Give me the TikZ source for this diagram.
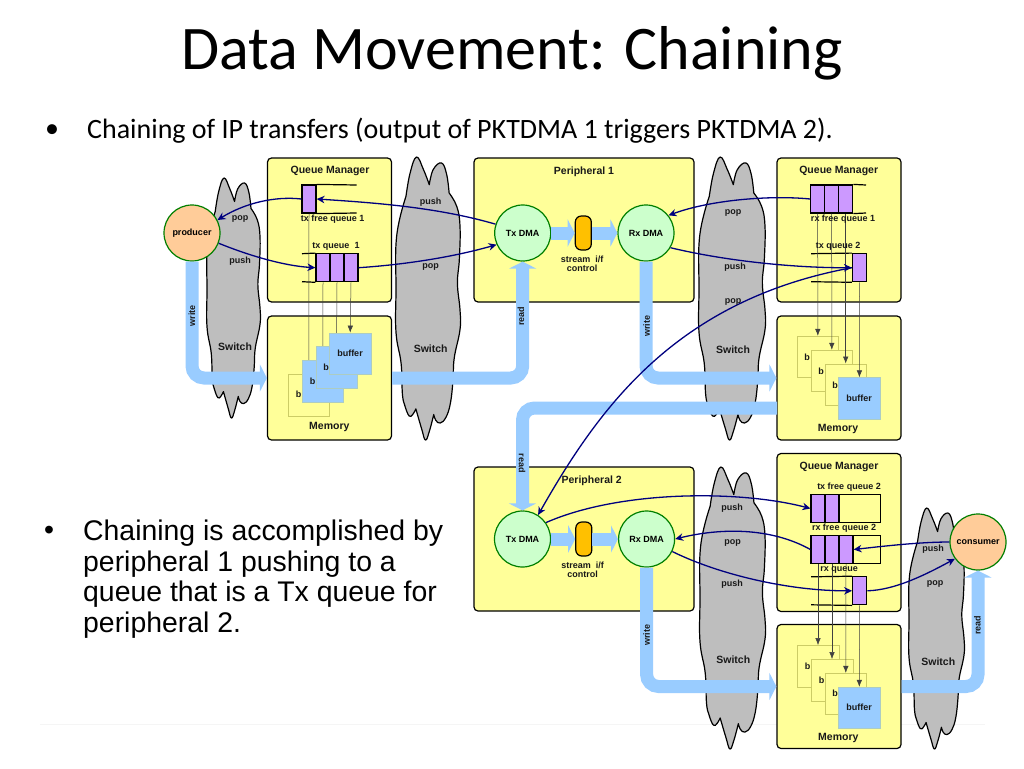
\documentclass[tikz,border=0pt]{standalone}
\usepackage{fontspec}
\setmainfont{Carlito}
\setsansfont{Liberation Sans}
\usetikzlibrary{arrows.meta}

\definecolor{boxyellow}{HTML}{FFFF99}
\definecolor{cloudgray}{HTML}{BEBEBE}
\definecolor{flowblue}{HTML}{99CCFF}
\definecolor{cellpurple}{HTML}{CC99FF}
\definecolor{dmagreen}{HTML}{CCFFCC}
\definecolor{edgegreen}{HTML}{007F00}
\definecolor{endorange}{HTML}{FFCC99}
\definecolor{pillorange}{HTML}{FFC000}
\definecolor{busnavy}{HTML}{00007F}
\definecolor{bufedge}{HTML}{CCCC66}

\tikzset{
  panel/.style={draw=black, line width=1.2pt, fill=boxyellow, rounded corners=4pt, inner sep=0pt},
  dma/.style={circle, draw=edgegreen, line width=1.2pt, fill=dmagreen, minimum size=56pt, inner sep=0pt, font=\sffamily\bfseries\fontsize{9}{9}\selectfont},
  endpoint/.style={dma, fill=endorange},
  pill/.style={draw=black, line width=1.2pt, fill=pillorange, rounded corners=6pt, minimum width=16pt, minimum height=34pt, inner sep=0pt},
  cell/.style={draw=black, line width=1.2pt, fill=cellpurple, minimum width=14pt, minimum height=28pt, inner sep=0pt},
  qframe/.style={draw=black, line width=1.2pt, minimum width=69.5pt, minimum height=28pt, inner sep=0pt},
  rail/.style={draw=black, line width=1.2pt},
  oldbuf/.style={draw=bufedge, line width=.5pt, fill=boxyellow, minimum size=41.5pt, inner sep=0pt},
  newbuf/.style={draw=bufedge!40!flowblue, line width=.5pt, fill=flowblue, minimum size=41.5pt, inner sep=0pt},
  lbl/.style={inner sep=0pt, font=\sffamily\bfseries\fontsize{9}{9}\selectfont, text=black!90},
  biglbl/.style={inner sep=0pt, font=\sffamily\bfseries\fontsize{10.5}{10.5}\selectfont, text=black!90},
  flow/.style={draw=flowblue, line width=13pt, rounded corners=12pt, -{Triangle[length=7pt,width=27pt]}},
  bus/.style={draw=busnavy, line width=1.3pt, -{Stealth[length=8pt,width=7.5pt]}},
  ptr/.style={draw=black!75, line width=.5pt, -{Latex[length=7pt,width=5.5pt]}},
  cloud/.style={draw=black, line width=1.2pt, fill=cloudgray, line join=round}
}

% left, top, width, height
\newcommand{\switchcloud}[4]{
  \draw[cloud, shift={(#1,#2)}, x=#3pt/100, y=-#4pt/100]
    plot[smooth, tension=.7] coordinates {(15.6,13.9) (22,5.7) (32,0) (43,4.5) (52,9.8)}
    -- plot[smooth, tension=.7] coordinates {(52,9.8) (58,4.5) (71,2.1) (79,6) (83,12.7)}
    -- plot[smooth, tension=.7] coordinates {(83,12.7) (95,17.5) (100,24.5) (99,36) (96,44.6) (100,54) (100,61) (91,71) (89,79) (85,87) (78,92) (69,94) (62,93) (59,91)}
    -- plot[smooth, tension=.7] coordinates {(59,91) (52,97) (46,100) (40,96) (31,89)}
    -- plot[smooth, tension=.7] coordinates {(31,89) (26,91) (20.5,91.5) (14,88) (10,83.7) (8,73) (0,62) (0,47) (1,28) (15.6,13.9)}
    -- cycle;
}

\begin{document}
\begin{tikzpicture}[x=1pt, y=-1pt]
  \useasboundingbox[fill=white] (0,0) rectangle (1024,768);

  % Titel und Text
  \draw[draw=black!4, line width=1pt] (40,724) -- (985,724);
  \node[inner sep=0pt, font=\fontsize{62}{62}\selectfont] (title) at (512,53) {Data Movement: Chaining};
  \node[inner sep=0pt, font=\fontsize{28}{28}\selectfont] (dotA) at (52,131) {•};
  \node[inner sep=0pt, anchor=west, font=\fontsize{28}{28}\selectfont] (intro) at (87,131) {Chaining of IP transfers (output of PKTDMA 1 triggers PKTDMA 2).};
  \node[inner sep=0pt, font=\sffamily\fontsize{28.4}{28.4}\selectfont] (dotB) at (49,533) {•};
  \node[inner sep=0pt, anchor=west, align=left, font=\sffamily\fontsize{28.4}{30.7}\selectfont] (note) at (83,579)
    {Chaining is accomplished by\\peripheral 1 pushing to a\\queue that is a Tx queue for\\peripheral 2.};

  % Switches
  \switchcloud{207}{178}{53}{240}
  \switchcloud{396}{157}{64}{283}
  \switchcloud{699}{157}{66}{283}
  \switchcloud{700}{467}{65}{282}
  \switchcloud{909}{508}{55}{241}

  % Kaesten
  \node[panel, minimum width=124pt, minimum height=144pt] (qmA) at (329.5,230) {};
  \node[panel, minimum width=124pt, minimum height=124pt] (memA) at (329.5,378) {};
  \node[panel, minimum width=220pt, minimum height=144pt] (perA) at (584,230) {};
  \node[panel, minimum width=124pt, minimum height=144pt] (qmB) at (839,230) {};
  \node[panel, minimum width=124pt, minimum height=124pt] (memB) at (839,378) {};
  \node[panel, minimum width=220pt, minimum height=144pt] (perB) at (584,539) {};
  \node[panel, minimum width=124pt, minimum height=158pt] (qmC) at (839,532.5) {};
  \node[panel, minimum width=124pt, minimum height=124pt] (memC) at (839,686.5) {};

  % Kreise
  \node[endpoint] (producer) at (192,233) {producer};
  \node[endpoint] (consumer) at (978,542) {consumer};
  \node[dma] (txA) at (522.7,233) {Tx DMA};
  \node[dma] (rxA) at (646,233) {Rx DMA};
  \node[dma] (txB) at (522.5,539) {Tx DMA};
  \node[dma] (rxB) at (646.6,539) {Rx DMA};
  \node[pill] (pillA) at (583.3,233) {};
  \node[pill] (pillB) at (583.8,539) {};

  % Queues
  \node[cell] (tfA) at (309,199) {};
  \draw[rail] (tfA.north east) -- (356.7,185);
  \draw[rail] (tfA.south east) -- (356.7,213);
  \node[cell] (tqA1) at (323,267.7) {};
  \node[cell] (tqA2) at (337,267.7) {};
  \node[cell] (tqA3) at (351,267.7) {};
  \draw[rail] (302,253.7) -- (tqA1.north west);
  \draw[rail] (302,281.7) -- (tqA1.south west);

  \node[cell] (rfA1) at (817.7,199) {};
  \node[cell] (rfA2) at (831.7,199) {};
  \node[cell] (rfA3) at (845.7,199) {};
  \draw[rail] (rfA3.north east) -- (866,185);
  \draw[rail] (rfA3.south east) -- (866,213);
  \node[cell] (tqB) at (859.5,267.7) {};
  \draw[rail] (811,253.7) -- (tqB.north west);
  \draw[rail] (811,281.7) -- (tqB.south west);

  \node[qframe] (tfBframe) at (845.7,508.5) {};
  \node[cell] (tfB1) at (818,508.5) {};
  \node[cell] (tfB2) at (832,508.5) {};
  \node[qframe] (rfBframe) at (845.7,549.5) {};
  \node[cell] (rfB1) at (818,549.5) {};
  \node[cell] (rfB2) at (832,549.5) {};
  \node[cell] (rfB3) at (846,549.5) {};
  \node[cell] (rq) at (859.7,590.8) {};
  \draw[rail] (811,576.8) -- (rq.north west);
  \draw[rail] (811,604.8) -- (rq.south west);

  % Puffer
  \foreach \name/\st/\cx/\cy/\qcell in {
      bA1/oldbuf/308.8/395/tfA, bA2/newbuf/322.8/381/tqA1, bA3/newbuf/336.5/367.3/tqA2, bA4/newbuf/350.2/353.6/tqA3,
      bB1/oldbuf/817.8/356.8/rfA1, bB2/oldbuf/831.8/370.8/rfA2, bB3/oldbuf/845.7/384.5/rfA3, bB4/newbuf/859.4/398.3/tqB,
      bC1/oldbuf/818/666/rfB1, bC2/oldbuf/832/680/rfB2, bC3/oldbuf/845.8/693.9/rfB3, bC4/newbuf/859.3/707.8/rq} {
    \node[\st] (\name) at (\cx,\cy) {};
    \draw[ptr] (\qcell.south) -- (\name.north);
  }

  % Breite Pfeile
  \draw[flow] (producer.south) |- (memA.west);
  \draw[flow] (memA.east) -| (txA.south);
  \draw[flow] (rxA.south) |- (memB.west);
  \coordinate (outB) at (777,408);
  \draw[flow] (outB) -| (txB.north);
  \draw[flow] (rxB.south) |- (memC.west);
  \draw[flow] (memC.east) -| (consumer.south);
  \draw[flow] (txA.east) -- (pillA.west);
  \draw[flow] (pillA.east) -- (rxA.west);
  \draw[flow] (txB.east) -- (pillB.west);
  \draw[flow] (pillB.east) -- (rxB.west);

  % Busse
  \draw[bus] (tfA.west) .. controls (275,196) and (245,203) .. (producer.27);
  \draw[bus] (txA.162) .. controls (440,208) and (380,203) .. (tfA.east);
  \draw[bus] (producer.-21) .. controls (250,256) and (285,266) .. (tqA1.west);
  \draw[bus] (tqA3.east) .. controls (400,265) and (450,258) .. (txA.204);
  \draw[bus] (rfA1.west) .. controls (770,195) and (710,200) .. (rxA.38);
  \draw[bus] (rxA.-31) .. controls (730,262) and (800,268) .. (tqB.west);
  \draw[bus] (tqB.west) .. controls (677,300) and (600,406) .. (txB.57);
  \draw[bus] (txB.35) .. controls (620,490) and (740,490) .. (tfB1.west);
  \draw[bus] (rfB1.west) .. controls (770,527) and (720,528) .. (rxB.east);
  \draw[bus] (rxB.-26) .. controls (720,575) and (790,591) .. (rq.west);
  \draw[bus] (consumer.west) .. controls (920,542) and (885,546) .. (rfB3.east);
  \draw[bus] (rq.east) .. controls (895,590) and (925,575) .. (consumer.216);

  % Beschriftungen
  \node[biglbl] (tqmA) at (330,170.7) {Queue Manager};
  \node[biglbl] (tmemA) at (329.3,427.3) {Memory};
  \node[biglbl] (tperA) at (584,171.5) {Peripheral 1};
  \node[biglbl] (tqmB) at (838.7,171) {Queue Manager};
  \node[biglbl] (tmemB) at (838,428.7) {Memory};
  \node[biglbl] (tperB) at (591.7,480.7) {Peripheral 2};
  \node[biglbl] (tqmC) at (839,467) {Queue Manager};
  \node[biglbl] (tmemC) at (838.3,738.3) {Memory};

  \node[lbl] (ltfA) at (332.7,219.3) {tx free queue 1};
  \node[lbl] (ltqA) at (336,246.7) {tx queue\ \ 1};
  \node[lbl] (lrfA) at (843,219) {rx free queue 1};
  \node[lbl] (ltqB) at (838,246.7) {tx queue 2};
  \node[lbl] (ltfB) at (849,487.3) {tx free queue 2};
  \node[lbl] (lrfB) at (844,528.3) {rx free queue 2};
  \node[lbl] (lrq) at (839,570) {rx queue};

  \node[lbl, align=center] (ctlA) at (582,263.5) {stream\ \ i/f\\control};
  \node[lbl, align=center] (ctlB) at (582.7,569.7) {stream\ \ i/f\\control};

  \node[biglbl] (swA) at (235,346.7) {Switch};
  \node[biglbl] (swB) at (430.7,349) {Switch};
  \node[biglbl] (swC) at (733,350) {Switch};
  \node[biglbl] (swD) at (733.3,659.3) {Switch};
  \node[biglbl] (swE) at (938.3,661.7) {Switch};

  \node[lbl] (p1) at (240,219.3) {pop};
  \node[lbl] (p2) at (240,260.7) {push};
  \node[lbl] (p3) at (430.7,202) {push};
  \node[lbl] (p4) at (430.7,267.3) {pop};
  \node[lbl] (p5) at (733,212.7) {pop};
  \node[lbl] (p6) at (735,267.3) {push};
  \node[lbl] (p7) at (733,302) {pop};
  \node[lbl] (p8) at (732,507.7) {push};
  \node[lbl] (p9) at (732.7,542.7) {pop};
  \node[lbl] (p10) at (732,583.7) {push};
  \node[lbl] (p11) at (933,549.3) {push};
  \node[lbl] (p12) at (935,584) {pop};

  \node[lbl, rotate=90] (w1) at (192,315.7) {write};
  \node[lbl, rotate=90] (w2) at (646.7,326) {write};
  \node[lbl, rotate=90] (w3) at (646.6,635) {write};
  \node[lbl, rotate=90] (r1) at (521,316) {read};
  \node[lbl, rotate=-90] (r2) at (522,463) {read};
  \node[lbl, rotate=90] (r3) at (977.5,625) {read};

  \foreach \name/\txt/\cx/\cy in {
      tA1/b/298.7/394.7, tA2/b/312.7/381, tA3/b/326/367.3, tA4/buffer/350/353.3,
      tB1/b/807/357, tB2/b/821/371, tB3/b/835/385, tB4/buffer/859/398,
      tC1/b/807.7/666, tC2/b/821.7/680, tC3/b/835/693.3, tC4/buffer/859/707.3} {
    \node[lbl] (\name) at (\cx,\cy) {\txt};
  }
\end{tikzpicture}
\end{document}
